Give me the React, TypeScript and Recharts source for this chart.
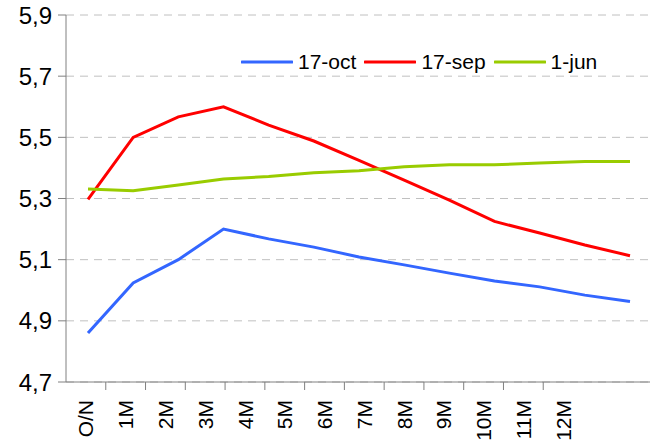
import React from "react";
import { LineChart, Line, XAxis, YAxis, CartesianGrid } from "recharts";

const tenors = ["O/N", "1M", "2M", "3M", "4M", "5M", "6M", "7M", "8M", "9M", "10M", "11M", "12M"];
const oct17 = [4.86, 5.024, 5.1, 5.2, 5.168, 5.141, 5.109, 5.083, 5.056, 5.03, 5.011, 4.984, 4.963];
const sep17 = [5.297, 5.5, 5.567, 5.6, 5.54, 5.488, 5.425, 5.36, 5.295, 5.225, 5.187, 5.148, 5.113];
const jun1 = [5.331, 5.325, 5.344, 5.364, 5.372, 5.384, 5.391, 5.404, 5.41, 5.41, 5.416, 5.421, 5.421];
const yTicks = [4.7, 4.9, 5.1, 5.3, 5.5, 5.7, 5.9];

const seriesInfo = [
  { key: "oct", name: "17-oct", color: "#3366FF", values: oct17 },
  { key: "sep", name: "17-sep", color: "#FF0000", values: sep17 },
  { key: "jun", name: "1-jun", color: "#99CC00", values: jun1 },
];

const data = tenors.map((t, i) => {
  const row: any = { tenor: t };
  seriesInfo.forEach((s) => (row[s.key] = s.values[i]));
  return row;
});

const FONT = "'Liberation Sans', Arial, sans-serif";

const XTick = (props: any) => {
  const { x, y, payload, index } = props;
  const half = payload && payload.offset ? payload.offset : 19.9;
  return (
    <g>
      {index < tenors.length - 1 && (
        <line x1={x + half} x2={x + half} y1={y - 8} y2={y} stroke="#808080" strokeWidth={1} />
      )}
      <text
        x={x}
        y={y + 10}
        transform={`rotate(-90, ${x}, ${y + 10})`}
        textAnchor="end"
        dy="0.36em"
        fontSize={21}
        fontFamily={FONT}
        fill="#000"
      >
        {payload.value}
      </text>
    </g>
  );
};

const LegendBox = () => (
  <div
    style={{
      position: "absolute",
      left: 241,
      top: 49,
      display: "flex",
      alignItems: "center",
      fontFamily: FONT,
      fontSize: 21,
      lineHeight: "26px",
      color: "#000",
    }}
  >
    {seriesInfo.map((s) => (
      <div key={s.key} style={{ display: "flex", alignItems: "center", marginRight: 8 }}>
        <svg width={52} height={6} style={{ marginRight: 5 }}>
          <line x1={1} x2={51} y1={3} y2={3} stroke={s.color} strokeWidth={3} strokeLinecap="round" />
        </svg>
        <span style={{ whiteSpace: "nowrap" }}>{s.name}</span>
      </div>
    ))}
  </div>
);

export default function App() {
  return (
    <div style={{ position: "absolute", left: 0, top: 0, width: 650, height: 448, background: "#fff" }}>
      <LineChart width={650} height={448} data={data} margin={{ top: 15, right: 0, bottom: 0, left: 0 }}>
        <CartesianGrid vertical={false} stroke="#C0C0C0" strokeDasharray="8 6" />
        <XAxis
          xAxisId="lab"
          dataKey="tenor"
          type="category"
          scale="band"
          padding={{ left: 0, right: 67 }}
          height={66}
          axisLine={{ stroke: "#808080" }}
          tickLine={false}
          tick={<XTick />}
          interval={0}
        />
        <XAxis
          xAxisId="pts"
          dataKey="tenor"
          type="category"
          hide
          padding={{ left: 22, right: 20 }}
        />
        <YAxis
          domain={[4.7, 5.9]}
          ticks={yTicks}
          type="number"
          width={66}
          axisLine={{ stroke: "#808080" }}
          tickLine={{ stroke: "#808080" }}
          tickSize={8}
          tickMargin={6}
          tickFormatter={(v: number) => v.toFixed(1).replace(".", ",")}
          tick={{ fontSize: 24, fontFamily: FONT, fill: "#000" }}
          interval={0}
        />
        {seriesInfo.map((s) => (
          <Line
            key={s.key}
            xAxisId="pts"
            dataKey={s.key}
            name={s.name}
            stroke={s.color}
            strokeWidth={3}
            dot={false}
            activeDot={false}
            type="linear"
            isAnimationActive={false}
          />
        ))}
      </LineChart>
      <LegendBox />
    </div>
  );
}
